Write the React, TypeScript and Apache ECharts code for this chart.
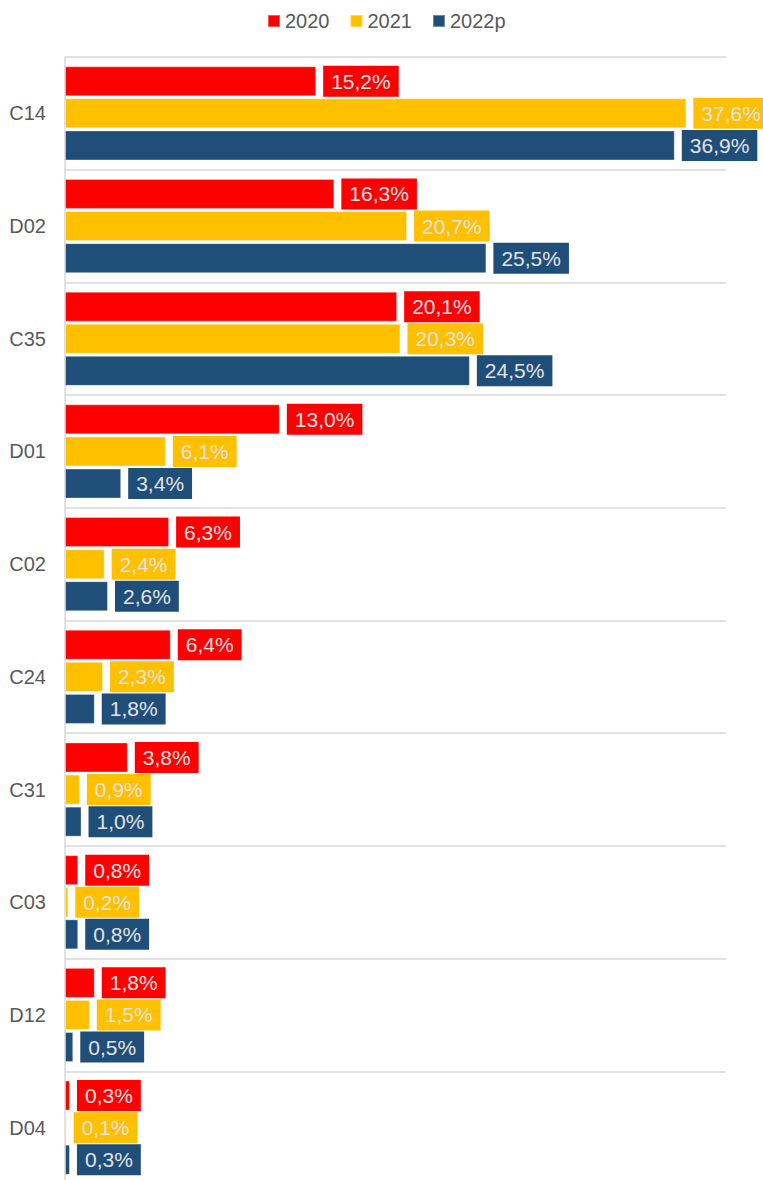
import React, { useEffect, useRef } from "react";
import * as echarts from "echarts";

const categories = ["C14", "D02", "C35", "D01", "C02", "C24", "C31", "C03", "D12", "D04"];
const values2020 = [15.2, 16.3, 20.1, 13.0, 6.3, 6.4, 3.8, 0.8, 1.8, 0.3];
const values2021 = [37.6, 20.7, 20.3, 6.1, 2.4, 2.3, 0.9, 0.2, 1.5, 0.1];
const values2022 = [36.9, 25.5, 24.5, 3.4, 2.6, 1.8, 1.0, 0.8, 0.5, 0.3];
const seriesNames = ["2020", "2021", "2022p"];
const seriesColors = ["#ff0000", "#ffc000", "#1f4e79"];

const FONT = "'Liberation Sans', Arial, sans-serif";

export default function App() {
  const ref = useRef<HTMLDivElement>(null);
  useEffect(() => {
    document.body.style.margin = "0";
    document.body.style.overflow = "hidden";
    const chart = echarts.init(ref.current!, undefined, { renderer: "svg" });
    const datasets = [values2020, values2021, values2022];
    chart.setOption({
      animation: false,
      legend: {
        top: 6,
        left: 262,
        itemWidth: 12,
        itemHeight: 12,
        itemGap: 20,
        icon: "rect",
        textStyle: { fontSize: 20, color: "#595959", fontFamily: FONT },
        data: seriesNames,
      },
      grid: { left: 65, top: 57, width: 661, height: 1127, containLabel: false },
      xAxis: {
        type: "value",
        min: 0,
        max: 40,
        show: false,
        splitLine: { show: false },
      },
      yAxis: {
        type: "category",
        inverse: true,
        data: categories,
        axisLine: { show: true, lineStyle: { color: "#d9d9d9", width: 1.5 } },
        axisTick: { show: false },
        splitLine: { show: true, lineStyle: { color: "#d9d9d9", width: 1.5 } },
        axisLabel: { fontSize: 20, color: "#595959", fontFamily: FONT, margin: 19 },
      },
      series: seriesNames.map((name, i) => ({
        name,
        type: "bar",
        data: datasets[i],
        barWidth: 30,
        barGap: "7%",
        itemStyle: {
          color: seriesColors[i],
          borderColor: "rgba(255,255,255,0.35)",
          borderWidth: 1,
        },
        label: {
          show: true,
          position: "right",
          distance: 7,
          backgroundColor: seriesColors[i],
          padding: [5, 8],
          color: "#e3e3e3",
          fontSize: 21,
          fontFamily: FONT,
          formatter: (p: any) => p.value.toFixed(1).replace(".", ",") + "%",
        },
      })),
    });
    return () => chart.dispose();
  }, []);
  return <div ref={ref} style={{ width: 763, height: 1200 }} />;
}
